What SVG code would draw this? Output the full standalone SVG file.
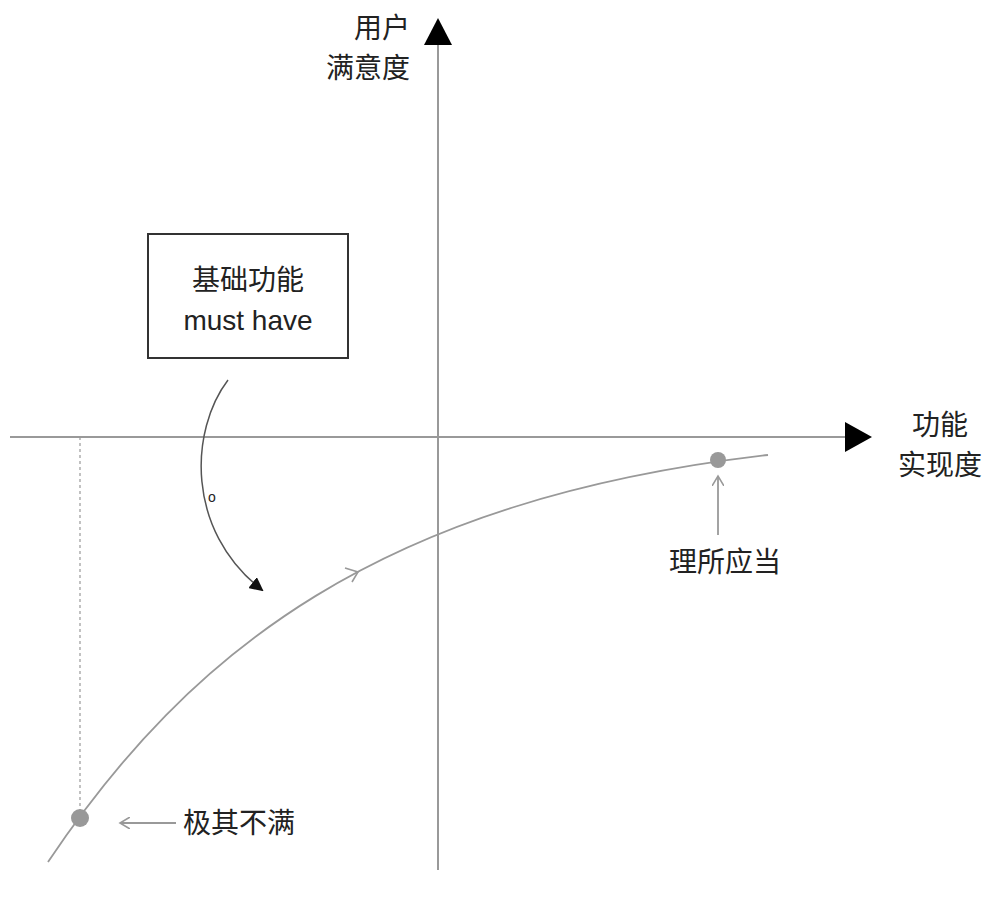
<svg xmlns="http://www.w3.org/2000/svg" width="1000" height="920" viewBox="0 0 1000 920">
<style>
text{font-family:"Liberation Sans","Noto Sans CJK SC",sans-serif;font-size:28px;fill:#222}
.ax{stroke:#999;stroke-width:2;fill:none}
.g{stroke:#999;stroke-width:1.8;fill:none}
</style>
<defs>
<marker id="open" markerWidth="12" markerHeight="12" refX="10" refY="6" orient="auto" markerUnits="userSpaceOnUse"><path d="M0 0 L10 6 L0 12" fill="none" stroke="#999" stroke-width="1.6"/></marker>
<marker id="solid" markerWidth="14" markerHeight="14" refX="12" refY="7" orient="auto" markerUnits="userSpaceOnUse"><path d="M0 0 L14 7 L0 14 Z" fill="#111"/></marker>
</defs>
<rect width="1000" height="920" fill="#fff"/>
<g id="connectors">
<line class="ax" x1="10" y1="437" x2="848" y2="437"/>
<polygon points="845,422 872,437 845,452" fill="#000"/>
<line class="ax" x1="438" y1="870" x2="438" y2="45"/>
<polygon points="424,45 438,18 452,45" fill="#000"/>
<line x1="80" y1="437" x2="80" y2="818" stroke="#999" stroke-width="1.2" stroke-dasharray="3,3"/>
<path class="g" d="M48 862 C 190 650, 380 500, 768 455"/>
<path d="M345 568 L358 572 L352 582" fill="none" stroke="#999" stroke-width="1.6"/>
<path d="M228 380 C 190 430, 185 530, 262 590" fill="none" stroke="#555" stroke-width="1.5" marker-end="url(#solid)"/>
<line class="g" x1="176" y1="823" x2="120" y2="823" marker-end="url(#open)"/>
<line class="g" x1="718" y1="535" x2="718" y2="476" marker-end="url(#open)"/>
</g>
<g id="box"><rect x="148" y="234" width="200" height="124" fill="#fff" stroke="#333" stroke-width="2"/>
<text x="248" y="290" text-anchor="middle">基础功能</text>
<text x="248" y="330" text-anchor="middle">must have</text></g>
<g id="o"><text x="212" y="502" text-anchor="middle" style="font-size:14px">o</text></g>
<g id="ylabel"><text x="410" y="38" text-anchor="end">用户</text><text x="410" y="78" text-anchor="end">满意度</text></g>
<g id="xlabel"><text x="940" y="435" text-anchor="middle">功能</text><text x="940" y="475" text-anchor="middle">实现度</text></g>
<g id="p1"><circle cx="718" cy="460" r="8" fill="#999"/><text x="725" y="572" text-anchor="middle">理所应当</text></g>
<g id="p2"><circle cx="80" cy="818" r="9" fill="#999"/><text x="183" y="833">极其不满</text></g>
</svg>
